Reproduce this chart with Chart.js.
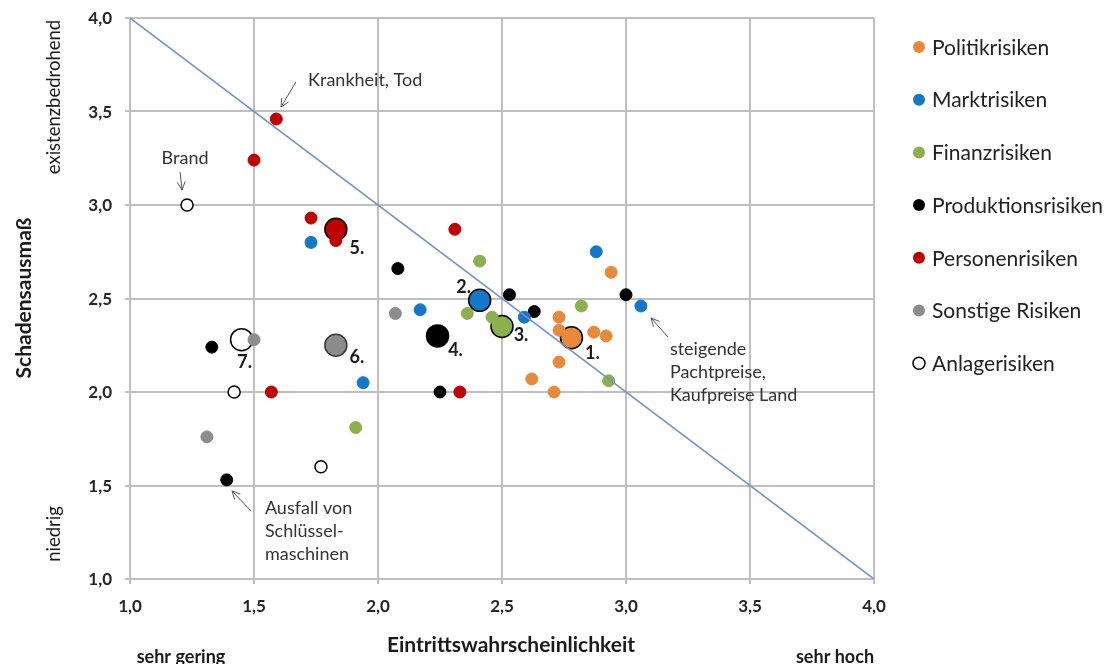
<!DOCTYPE html>
<html><head><meta charset="utf-8">
<script src="https://cdn.jsdelivr.net/npm/chart.js@4/dist/chart.umd.min.js"></script>
<style>html,body{margin:0;padding:0;background:#fff;}canvas{display:block;}</style>
</head><body>
<canvas id="c" width="1109" height="664"></canvas>
<script>
const categories = ['Politikrisiken','Marktrisiken','Finanzrisiken','Produktionsrisiken','Personenrisiken','Sonstige Risiken','Anlagerisiken'];
const politikX = [2.94, 2.73, 2.73, 2.87, 2.92, 2.73, 2.62, 2.71];
const politikY = [2.64, 2.40, 2.33, 2.32, 2.30, 2.16, 2.07, 2.00];
const marktX = [2.88, 3.06, 2.59, 2.17, 1.94, 1.73];
const marktY = [2.75, 2.46, 2.40, 2.44, 2.05, 2.80];
const finanzX = [2.41, 2.36, 2.46, 2.82, 2.93, 1.91];
const finanzY = [2.70, 2.42, 2.40, 2.46, 2.06, 1.81];
const produktionX = [2.08, 2.53, 2.63, 3.00, 2.25, 1.33, 1.39];
const produktionY = [2.66, 2.52, 2.43, 2.52, 2.00, 2.24, 1.53];
const personenX = [1.59, 1.50, 1.73, 1.83, 2.31, 2.33, 1.57];
const personenY = [3.46, 3.24, 2.93, 2.81, 2.87, 2.00, 2.00];
const sonstigeX = [1.50, 1.31, 2.07];
const sonstigeY = [2.28, 1.76, 2.42];
const anlageX = [1.23, 1.42, 1.77];
const anlageY = [3.00, 2.00, 1.60];
const meanX = [2.78, 2.41, 2.50, 2.24, 1.83, 1.83, 1.45];
const meanY = [2.29, 2.49, 2.35, 2.30, 2.87, 2.25, 2.28];
const meanLabels = ['1.','2.','3.','4.','5.','6.','7.'];
const diagX = [1.0, 4.0];
const diagY = [4.0, 1.0];
const xTicks = [1.0, 1.5, 2.0, 2.5, 3.0, 3.5, 4.0];
const yTicks = [1.0, 1.5, 2.0, 2.5, 3.0, 3.5, 4.0];

const colors = ['#E8893C','#1478C8','#8CB04E','#000000','#C00000','#8C8C8C','#FFFFFF'];
const xsAll = [politikX, marktX, finanzX, produktionX, personenX, sonstigeX, anlageX];
const ysAll = [politikY, marktY, finanzY, produktionY, personenY, sonstigeY, anlageY];
const zip = (xs, ys) => xs.map((v, i) => ({x: v, y: ys[i]}));

const FONT = 'Lato, "Open Sans", "DejaVu Sans", sans-serif';
Chart.defaults.font.family = FONT;

const datasets = [];
datasets.push({
  type: 'line', label: 'diag', data: zip(diagX, diagY),
  borderColor: '#6F94C8', borderWidth: 1.6, pointRadius: 0, fill: false, order: 0
});
meanX.forEach((mx, i) => {
  datasets.push({
    label: 'mean' + i, data: [{x: mx, y: meanY[i]}],
    backgroundColor: colors[i], borderColor: i === 5 ? '#3a3a3a' : '#000000',
    borderWidth: 1.5, pointRadius: 11, order: 3
  });
});
categories.forEach((c, i) => {
  datasets.push({
    label: c, data: zip(xsAll[i], ysAll[i]),
    backgroundColor: colors[i], borderColor: i === 6 ? '#000000' : colors[i],
    borderWidth: i === 6 ? 1.5 : 1, pointRadius: 6, order: 2
  });
});

const fmt = v => v.toFixed(1).replace('.', ',');

const annotPlugin = {
  id: 'annot',
  afterDraw(chart) {
    const {ctx, scales: {x, y}} = chart;
    const px = v => x.getPixelForValue(v), py = v => y.getPixelForValue(v);
    ctx.save();
    ctx.fillStyle = '#262626';
    ctx.font = 'bold 17px ' + FONT;
    ctx.textAlign = 'right'; ctx.textBaseline = 'middle';
    yTicks.forEach(v => ctx.fillText(fmt(v), 112, py(v) + 1));
    ctx.textAlign = 'center'; ctx.textBaseline = 'alphabetic';
    xTicks.forEach(v => ctx.fillText(fmt(v), px(v), 612));

    const offs = [[21,15],[-16,-13],[19,9],[18,14],[21,19],[21,12],[3,23]];
    ctx.font = 'bold 18px ' + FONT;
    ctx.fillStyle = '#1a1a1a';
    ctx.textAlign = 'center'; ctx.textBaseline = 'middle';
    meanLabels.forEach((l, i) => ctx.fillText(l, px(meanX[i]) + offs[i][0], py(meanY[i]) + offs[i][1]));

    ctx.font = '18px ' + FONT;
    ctx.fillStyle = '#333';
    const arrow = (x1, y1, x2, y2) => {
      const a1 = px(x1), b1 = py(y1), a2 = px(x2), b2 = py(y2);
      ctx.strokeStyle = '#555'; ctx.lineWidth = 1;
      ctx.beginPath(); ctx.moveTo(a1, b1); ctx.lineTo(a2, b2); ctx.stroke();
      const ang = Math.atan2(b2 - b1, a2 - a1), L = 9;
      ctx.beginPath();
      ctx.moveTo(a2 - L * Math.cos(ang - 0.45), b2 - L * Math.sin(ang - 0.45));
      ctx.lineTo(a2, b2);
      ctx.lineTo(a2 - L * Math.cos(ang + 0.45), b2 - L * Math.sin(ang + 0.45));
      ctx.stroke();
    };
    const note = (lines, dx, dy, align) => {
      ctx.textAlign = align; ctx.textBaseline = 'middle';
      lines.forEach((t, k) => ctx.fillText(t, px(dx), py(dy) + k * 23));
    };
    note(['Krankheit, Tod'], 1.718, 3.668, 'left');
    arrow(1.669, 3.658, 1.609, 3.524);
    note(['Brand'], 1.222, 3.251, 'center');
    arrow(1.202, 3.176, 1.210, 3.080);
    note(['Ausfall von', 'Schlüssel-', 'maschinen'], 1.544, 1.380, 'left');
    arrow(1.488, 1.364, 1.411, 1.471);
    note(['steigende', 'Pachtpreise,', 'Kaufpreise Land'], 3.177, 2.230, 'left');
    arrow(3.169, 2.294, 3.101, 2.396);

    ctx.fillStyle = '#1a1a1a';
    ctx.font = 'bold 21px ' + FONT;
    ctx.textAlign = 'center'; ctx.textBaseline = 'alphabetic';
    ctx.fillText('Eintrittswahrscheinlichkeit', 511, 652);
    ctx.font = 'bold 18px ' + FONT;
    ctx.fillText('sehr gering', 181, 663);
    ctx.fillText('sehr hoch', 835, 663);
    ctx.textBaseline = 'middle';
    ctx.save();
    ctx.translate(24, 298); ctx.rotate(-Math.PI / 2);
    ctx.font = 'bold 21px ' + FONT;
    ctx.fillText('Schadensausmaß', 0, 0);
    ctx.restore();
    ctx.font = '18.5px ' + FONT;
    ctx.save(); ctx.translate(54, 97); ctx.rotate(-Math.PI / 2);
    ctx.fillText('existenzbedrohend', 0, 0); ctx.restore();
    ctx.save(); ctx.translate(54, 534); ctx.rotate(-Math.PI / 2);
    ctx.fillText('niedrig', 0, 0); ctx.restore();

    ctx.font = '21px ' + FONT;
    ctx.textAlign = 'left'; ctx.textBaseline = 'middle';
    categories.forEach((c, i) => {
      const yy = 47 + i * 52.7;
      ctx.beginPath(); ctx.arc(919, yy, 6, 0, Math.PI * 2);
      ctx.fillStyle = colors[i]; ctx.fill();
      if (i === 6) { ctx.strokeStyle = '#000'; ctx.lineWidth = 1.5; ctx.stroke(); }
      ctx.fillStyle = '#222';
      ctx.fillText(c, 932, yy + 1);
    });
    ctx.restore();
  }
};

new Chart(document.getElementById('c'), {
  type: 'scatter',
  data: { datasets },
  options: {
    responsive: false, animation: false, devicePixelRatio: 1,
    layout: { padding: { top: 18, right: 235, left: 0, bottom: 0 } },
    plugins: { legend: { display: false }, tooltip: { enabled: false } },
    scales: {
      x: {
        type: 'linear', min: 1, max: 4,
        afterFit: s => { s.height = 85; },
        afterBuildTicks: s => { s.ticks = xTicks.map(v => ({value: v})); },
        ticks: { display: false },
        grid: { color: '#BFBFBF', lineWidth: 2, tickLength: 5 },
        border: { color: '#BFBFBF', width: 2 }
      },
      y: {
        type: 'linear', min: 1, max: 4,
        afterFit: s => { s.width = 130; },
        afterBuildTicks: s => { s.ticks = yTicks.map(v => ({value: v})); },
        ticks: { display: false },
        grid: { color: '#BFBFBF', lineWidth: 2, tickLength: 5 },
        border: { color: '#BFBFBF', width: 2 }
      }
    }
  },
  plugins: [annotPlugin]
});
</script>
</body></html>
